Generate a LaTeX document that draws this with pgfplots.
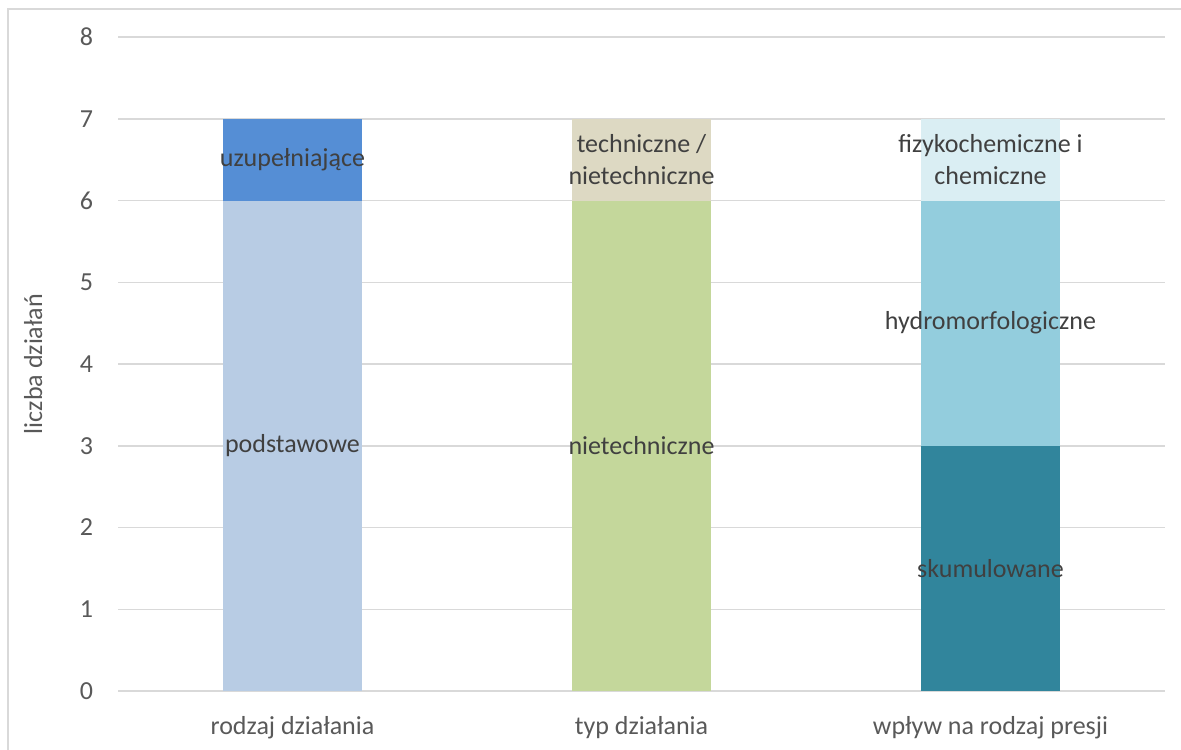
\documentclass[border=0pt]{standalone}
\usepackage{pgfplots}
\pgfplotsset{compat=1.18}
\usepackage{fontspec}
\setmainfont{Carlito}
\definecolor{gridc}{HTML}{D9D9D9}
\definecolor{txt}{HTML}{595959}
\definecolor{lbl}{HTML}{404040}
\definecolor{cA}{HTML}{B8CCE4}
\definecolor{cD}{HTML}{558ED5}
\definecolor{cB}{HTML}{C4D79B}
\definecolor{cE}{HTML}{DDD9C3}
\definecolor{cC}{HTML}{31859C}
\definecolor{cF}{HTML}{93CDDD}
\definecolor{cG}{HTML}{DAEEF3}
\begin{document}
\fontsize{13}{15.6}\selectfont
\begin{tikzpicture}
\useasboundingbox (0,0) rectangle (590.5pt,374.5pt);
\draw[gridc, line width=0.75pt] (4pt,-2pt) -- (4pt,370pt) -- (593pt,370pt);
\begin{axis}[
  at={(59pt,29pt)}, anchor=south west,
  scale only axis, width=523.5pt, height=327pt,
  ybar stacked, bar width=69.5pt,
  xmin=-0.5, xmax=2.5, ymin=0, ymax=8,
  xtick={0,1,2},
  xticklabels={rodzaj działania, typ działania, wpływ na rodzaj presji},
  ytick={0,1,...,8},
  ymajorgrids, major grid style={gridc, line width=0.75pt},
  axis line style={draw=none}, tick style={draw=none},
  ticklabel style={font=\fontsize{13}{15.6}\selectfont, text=txt},
  /pgf/number format/assume math mode=true,
  yticklabel style={xshift=-8pt},
  xticklabel style={yshift=-8pt},
  ylabel={liczba działań},
  every axis y label/.style={at={(axis description cs:-0.081,0.5)}, rotate=90, anchor=center, font=\fontsize{13}{15.6}\selectfont, text=txt},
  point meta=explicit symbolic,
  nodes near coords,
  every node near coord/.append style={anchor=center, align=center, text=lbl, font=\fontsize{13}{15.6}\selectfont},
]
\addplot[fill=cA, draw=none] coordinates {(0,6) [podstawowe] (1,0) [] (2,0) []};
\addplot[fill=cB, draw=none] coordinates {(0,0) [] (1,6) [nietechniczne] (2,0) []};
\addplot[fill=cC, draw=none] coordinates {(0,0) [] (1,0) [] (2,3) [skumulowane]};
\addplot[fill=cD, draw=none] coordinates {(0,1) [uzupełniające] (1,0) [] (2,0) []};
\addplot[fill=cE, draw=none] coordinates {(0,0) [] (1,1) [{techniczne /\\nietechniczne}] (2,0) []};
\addplot[fill=cF, draw=none] coordinates {(0,0) [] (1,0) [] (2,3) [hydromorfologiczne]};
\addplot[fill=cG, draw=none] coordinates {(0,0) [] (1,0) [] (2,1) [{fizykochemiczne i\\chemiczne}]};
\end{axis}
\end{tikzpicture}
\end{document}
